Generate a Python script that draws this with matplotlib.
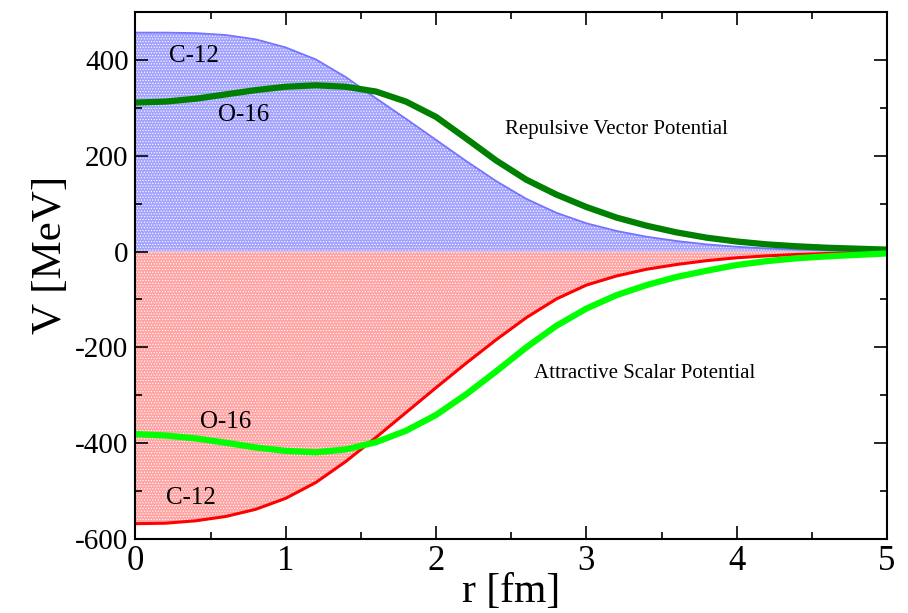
import matplotlib
matplotlib.use("Agg")
import matplotlib.pyplot as plt
import numpy as np

plt.rcParams['font.family'] = ['Liberation Serif', 'DejaVu Serif']
plt.rcParams['axes.unicode_minus'] = False
plt.rcParams['hatch.linewidth'] = 0.5

# radius grid [fm]
r = [0.0, 0.2, 0.4, 0.6, 0.8, 1.0, 1.2, 1.4, 1.6, 1.8, 2.0, 2.2, 2.4,
     2.6, 2.8, 3.0, 3.2, 3.4, 3.6, 3.8, 4.0, 4.2, 4.4, 4.6, 4.8, 5.0]

# C-12 repulsive vector potential [MeV]
c12_vector = [457, 457, 456, 452, 443, 426, 401, 364, 320, 277, 233, 189, 147,
              110, 81, 59, 43, 31, 22, 15, 10, 6.5, 4, 2.5, 1.5, 1]
# C-12 attractive scalar potential [MeV]
c12_scalar = [-568, -567, -562, -553, -538, -515, -482, -438, -388, -336, -284,
              -233, -184, -138, -99, -70, -51, -37, -27, -19, -13, -9, -6, -4,
              -2.5, -1.5]
# O-16 vector
o16_vector = [311, 313, 319, 328, 337, 344, 347, 344, 334, 313, 281, 236, 190,
              150, 119, 93, 71, 54, 40, 29, 21, 15, 11, 8, 6, 4]
# O-16 scalar
o16_scalar = [-381, -384, -390, -399, -409, -416, -419, -413, -398, -374, -341,
              -298, -250, -200, -155, -119, -91, -70, -53, -40, -28, -20, -14,
              -10, -7, -4]

r = np.array(r)

fig = plt.figure(figsize=(9.08, 6.13), dpi=100)
ax = fig.add_axes([0.1492, 0.1207, 0.8277, 0.8597])

ax.fill_between(r, 0, c12_vector, facecolor='#a3a3ff', edgecolor='white',
                hatch='......', linewidth=0)
ax.fill_between(r, c12_scalar, 0, facecolor='#ffa3a3', edgecolor='white',
                hatch='......', linewidth=0)
ax.plot(r, c12_vector, color='#7474ff', lw=1.3)
ax.plot(r, c12_scalar, color='red', lw=2.2)
ax.plot(r, o16_vector, color='#008000', lw=4.5)
ax.plot(r, o16_scalar, color='#00ff00', lw=4.5)

ax.text(0.39, 409, 'C-12', fontsize=18, ha='center', va='center')
ax.text(0.72, 285, 'O-16', fontsize=18, ha='center', va='center')
ax.text(0.60, -356, 'O-16', fontsize=18, ha='center', va='center')
ax.text(0.37, -514, 'C-12', fontsize=18, ha='center', va='center')
ax.text(3.2, 254, 'Repulsive Vector Potential', fontsize=15,
        ha='center', va='center')
ax.text(3.39, -254, 'Attractive Scalar Potential', fontsize=15,
        ha='center', va='center')

ax.set_xlim(0, 5)
ax.set_ylim(-600, 500)
ax.set_xticks(np.arange(0, 5.1, 1))
ax.set_xticks(np.arange(0.5, 5, 1), minor=True)
ax.set_yticks(np.arange(-600, 401, 200))
ax.set_yticks(np.arange(-500, 501, 200), minor=True)
ax.tick_params(which='both', direction='in', top=True, right=True, width=1.2)
ax.tick_params(which='major', length=9.5)
ax.tick_params(which='minor', length=5)
ax.tick_params(axis='y', labelsize=21, pad=5)
ax.tick_params(axis='x', labelsize=25, pad=4)
for s in ax.spines.values():
    s.set_linewidth(1.5)

ax.set_xlabel('r [fm]', fontsize=30, labelpad=-4)
ax.set_ylabel('V [MeV]', fontsize=31)
ax.yaxis.set_label_coords(-0.087, 0.54)

fig.savefig('out.png', dpi=100)
